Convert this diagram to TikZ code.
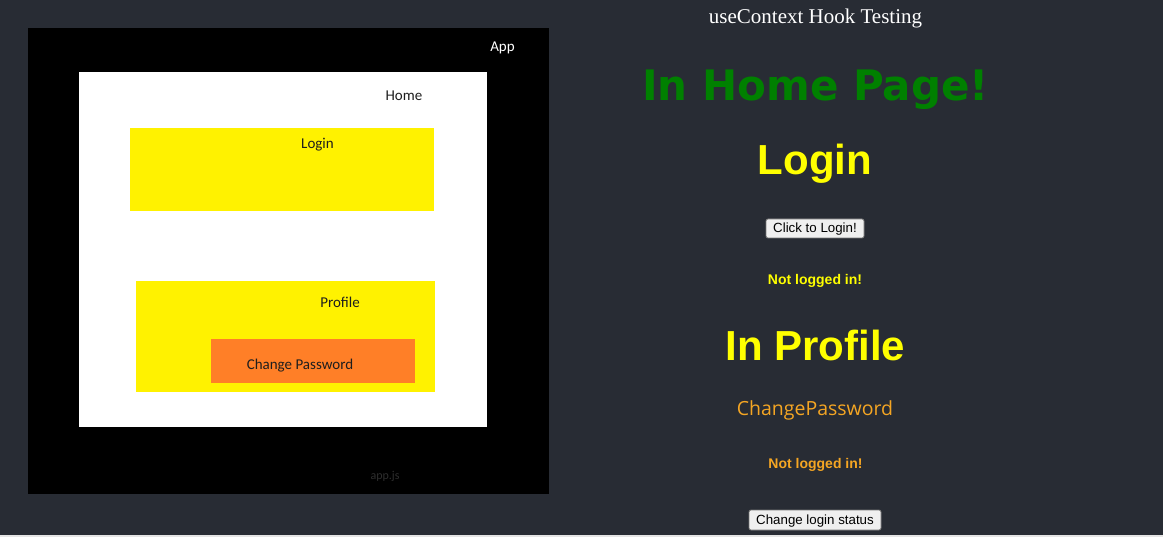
\documentclass[tikz,border=0pt]{standalone}
\usepackage{fontspec}
\setmainfont{Liberation Serif}
\newfontfamily\arialf{Liberation Sans}
\newfontfamily\verdf{DejaVu Sans}
\newfontfamily\calf{Carlito}
\newfontfamily\segf{Open Sans}
\definecolor{bgc}{HTML}{282C34}
\definecolor{yel}{HTML}{FFF200}
\definecolor{ora}{HTML}{FF7F27}
\definecolor{hyel}{HTML}{FFFF00}
\definecolor{hgrn}{HTML}{008000}
\definecolor{hora}{HTML}{F5A623}
\definecolor{btnf}{HTML}{EFEFEF}
\definecolor{btnd}{HTML}{767676}
\definecolor{lbl}{HTML}{1E1E1E}
\tikzset{
  diaglbl/.style={font=\calf\fontsize{15}{18}\selectfont, text=lbl, inner sep=0pt},
  btnbox/.style={draw=btnd, fill=btnf, rounded corners=2pt, line width=0.8pt},
  btntext/.style={font=\arialf\fontsize{13.3}{16}\selectfont, text=black, inner sep=0pt},
  bigh/.style={font=\arialf\bfseries\fontsize{42}{48}\selectfont, inner sep=0pt},
  smallh/.style={font=\arialf\bfseries\fontsize{14}{17}\selectfont, inner sep=0pt},
}
\begin{document}
\begin{tikzpicture}[x=1pt,y=-1pt]
\fill[bgc] (0,0) rectangle (1163,537);
\useasboundingbox (0,0) rectangle (1163,537);
\fill[black!10!white] (0,535) rectangle (1163,537);
% diagram
\fill[black] (28,28) rectangle (549,494);
\fill[white] (79,72) rectangle (487,427);
\fill[yel] (130,128) rectangle (434,211);
\fill[yel] (136,281) rectangle (435,392);
\fill[ora] (211,339) rectangle (415,383);
\node[diaglbl, text=white] (app) at (502.5,48) {App};
\node[diaglbl] (home) at (404,96) {Home};
\node[diaglbl] (login) at (317.5,144.5) {Login};
\node[diaglbl] (profile) at (340,302) {Profile};
\node[diaglbl] (chpw) at (300,365.5) {Change Password};
\node[font=\calf\fontsize{12}{14}\selectfont, text=black!82!white, inner sep=0pt] (appjs) at (385,476) {app.js};
% right side
\node[font=\fontsize{21}{24}\selectfont, text=white, inner sep=0pt] (title) at (815.5,18.5) {useContext Hook Testing};
\node[font=\verdf\bfseries\fontsize{42}{48}\selectfont, text=hgrn, inner sep=0pt] (homeh) at (815.5,90) {In Home Page!};
\node[bigh, text=hyel] (loginh) at (815,164) {Login};
\draw[btnbox] (766,219) rectangle (864,238);
\node[btntext] (btn1) at (815,229.5) {Click to Login!};
\node[smallh, text=hyel] (nl1) at (815,280.5) {Not logged in!};
\node[bigh, text=hyel] (profh) at (815.5,345) {In Profile};
\node[font=\segf\fontsize{19.5}{23}\selectfont, text=hora, inner sep=0pt] (cph) at (815,410.5) {ChangePassword};
\node[smallh, text=hora] (nl2) at (815.5,464.5) {Not logged in!};
\draw[btnbox] (749,510) rectangle (881,530);
\node[btntext] (btn2) at (815,521.5) {Change login status};
\end{tikzpicture}
\end{document}
